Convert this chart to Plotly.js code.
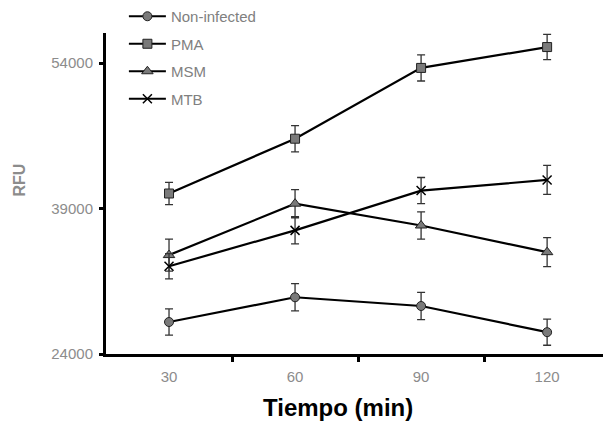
<!DOCTYPE html>
<html>
<head>
<meta charset="utf-8">
<script src="https://cdn.plot.ly/plotly-3.0.1.min.js"></script>
<style>html,body{margin:0;padding:0;background:#fff;}#chart{width:604px;height:423px;}</style>
</head>
<body>
<div id="chart"></div>
<script>
const times = [30, 60, 90, 120];
const seriesNames = ['Non-infected', 'PMA', 'MSM', 'MTB'];
const nonInfected = [27300, 29850, 28950, 26250];
const nonInfectedErr = [1350, 1400, 1400, 1350];
const pma = [40550, 46200, 53500, 55650];
const pmaErr = [1150, 1350, 1350, 1300];
const msm = [34200, 39500, 37250, 34500];
const msmErr = [1650, 1450, 1400, 1500];
const mtb = [33050, 36750, 40850, 41950];
const mtbErr = [1300, 1400, 1350, 1500];
const yTicks = [24000, 39000, 54000];
const yLabels = ['24000', '39000', '54000'];
const xLabels = ['30', '60', '90', '120'];

const values = [nonInfected, pma, msm, mtb];
const errs = [nonInfectedErr, pmaErr, msmErr, mtbErr];
const symbols = ['circle', 'square', 'triangle-up', 'x-thin'];
const sizes = [9, 9, 10, 9];

const traces = values.map((v, i) => ({
  x: times, y: v, name: seriesNames[i], type: 'scatter', mode: 'lines+markers',
  legendgroup: 'g' + i,
  line: {color: '#000', width: 2.2},
  marker: {symbol: symbols[i], size: sizes[i], color: '#7a7a7a',
           line: {color: i === 3 ? '#000' : '#222', width: i === 3 ? 1.5 : 1}},
  error_y: {type: 'data', array: errs[i], visible: true, color: '#333', thickness: 1.3, width: 4}
}));

const layout = {
  width: 604, height: 423,
  margin: {l: 106, r: 1, t: 32, b: 69},
  paper_bgcolor: '#fff', plot_bgcolor: '#fff',
  font: {family: 'Liberation Sans, Arial, sans-serif'},
  showlegend: true,
  legend: {x: 0.036, y: 1.1, xanchor: 'left', yanchor: 'top', traceorder: 'grouped', tracegroupgap: 5,
           itemwidth: 37,
           font: {size: 15, color: '#808080'}, bgcolor: 'rgba(0,0,0,0)'},
  xaxis: {
    range: [15, 133.3], showgrid: false, zeroline: false,
    showline: true, linecolor: '#000', linewidth: 3,
    tickmode: 'array', tickvals: times, ticktext: xLabels, ticks: '',
    ticklabelstandoff: 7,
    tickfont: {size: 15, color: '#8c8c8c'},
    minor: {tickmode: 'array', tickvals: [45, 75, 105], ticks: 'outside', ticklen: 5, tickwidth: 3, tickcolor: '#000'}
  },
  yaxis: {
    range: [24000, 57100], showgrid: false, zeroline: false,
    showline: true, linecolor: '#000', linewidth: 3,
    tickmode: 'array', tickvals: yTicks, ticktext: yLabels, ticks: 'outside', ticklen: 4, tickwidth: 3, tickcolor: '#000',
    ticklabelstandoff: 3,
    tickfont: {size: 15, color: '#8c8c8c'}
  },
  annotations: [
    {text: '<b>Tiempo (min)</b>', xref: 'paper', yref: 'paper', x: (338 - 106) / 497, y: -(408 - 354) / 322,
     xanchor: 'center', yanchor: 'middle', showarrow: false, font: {size: 24, color: '#000'}},
    {text: '<b>RFU</b>', xref: 'paper', yref: 'paper', x: (20 - 106) / 497, y: (354 - 180) / 322,
     xanchor: 'center', yanchor: 'middle', showarrow: false, textangle: -90, font: {size: 16, color: '#8c8c8c'}}
  ]
};

Plotly.newPlot('chart', traces, layout, {displayModeBar: false, staticPlot: true});
</script>
</body>
</html>
